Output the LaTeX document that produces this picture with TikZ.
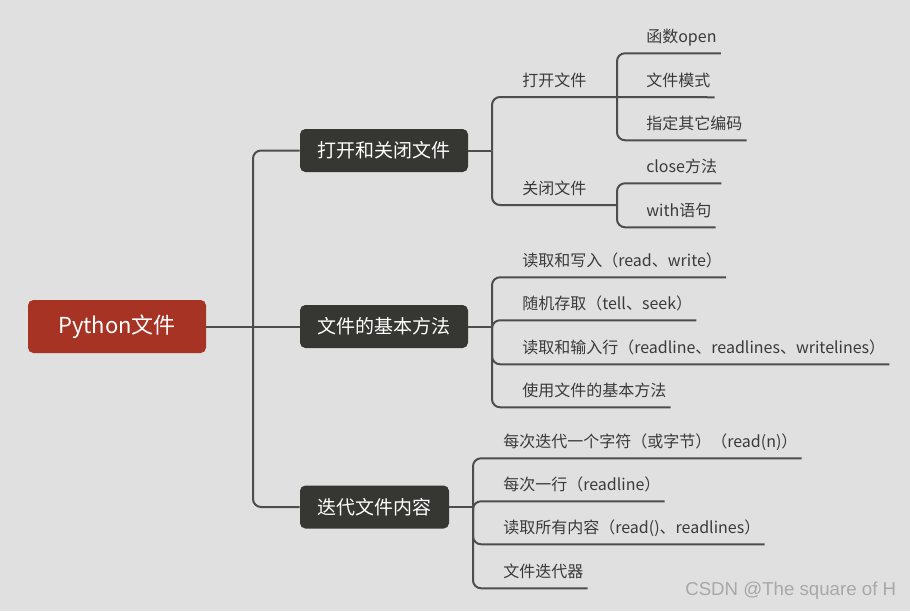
\documentclass[tikz,border=0pt]{standalone}
\usepackage{fontspec}
\setmainfont{Noto Sans CJK SC}
\newfontfamily\wmfont{Liberation Sans}
\usetikzlibrary{calc}
\definecolor{bg}{HTML}{E0E0E0}
\definecolor{rootred}{HTML}{A63324}
\definecolor{boxdark}{HTML}{363632}
\definecolor{linegray}{HTML}{4D4D4D}
\definecolor{txtgray}{HTML}{3A3A3A}
\definecolor{wmgray}{HTML}{A8A8A8}
\begin{document}
\begin{tikzpicture}[x=0.75pt,y=-0.75pt,
  conn/.style={draw=linegray,line width=1.5pt,rounded corners=6pt},
  rootbox/.style={fill=rootred,rounded corners=4pt,text=white,font=\fontsize{16.5}{18}\selectfont,minimum width=133.5pt,minimum height=39.75pt,inner sep=0pt},
  mainbox/.style={fill=boxdark,rounded corners=4pt,text=white,font=\fontsize{14.25}{16}\selectfont,minimum height=32.25pt,inner sep=0pt},
  leaf/.style={anchor=base west,inner sep=0pt,text depth=8.25pt,text=txtgray,font=\fontsize{12}{14}\selectfont}]
\fill[bg] (0,0) rectangle (910,611);
\useasboundingbox (0,0) rectangle (910,611);

% main nodes
\node[rootbox] (root) at (117,326.5) {Python文件};
\node[mainbox,minimum width=126pt] (b1) at (384,150.5) {打开和关闭文件};
\node[mainbox,minimum width=126pt] (b2) at (384,326.5) {文件的基本方法};
\node[mainbox,minimum width=111.75pt] (b3) at (374.5,507) {迭代文件内容};

% leaves of b1
\node[leaf] (l11) at (522,86) {打开文件};
\node[leaf] (l12) at (522,194) {关闭文件};
\node[leaf] (l111) at (646,42) {函数open};
\node[leaf] (l112) at (646,86) {文件模式};
\node[leaf] (l113) at (646,129) {指定其它编码};
\node[leaf] (l121) at (646,172) {close方法};
\node[leaf] (l122) at (646,216) {with语句};

% leaves of b2
\node[leaf] (l21) at (522,266) {读取和写入（read、write）};
\node[leaf] (l22) at (522,309) {随机存取（tell、seek）};
\node[leaf] (l23) at (522,353) {读取和输入行（readline、readlines、writelines）};
\node[leaf] (l24) at (522,396) {使用文件的基本方法};

% leaves of b3
\node[leaf] (l31) at (503,447) {每次迭代一个字符（或字节）（read(n)）};
\node[leaf] (l32) at (503,490) {每次一行（readline）};
\node[leaf] (l33) at (503,533) {读取所有内容（read()、readlines）};
\node[leaf] (l34) at (503,577) {文件迭代器};

% junctions
\coordinate (jr) at (253,326.5);
\coordinate (j1) at (492,150.5);
\coordinate (j2) at (492,326.5);
\coordinate (j3) at (473,507);
\coordinate (g1) at (617,97);
\coordinate (g2) at (617,205);

% connectors
\draw[conn] (root.east) -- (jr);
\draw[conn] (jr) |- (b1.west);
\draw[conn] (jr) -- (b2.west);
\draw[conn] (jr) |- (b3.west);

\draw[conn] (b1.east) -- (j1);
\draw[conn] (j1) |- (g1);
\draw[conn] (j1) |- (g2);
\draw[conn] (g1) |- ([xshift=3pt]l111.south east);
\draw[conn] (g1) -- ([xshift=3pt]l112.south east);
\draw[conn] (g1) |- ([xshift=3pt]l113.south east);
\draw[conn] (g2) |- ([xshift=3pt]l121.south east);
\draw[conn] (g2) |- ([xshift=3pt]l122.south east);

\draw[conn] (b2.east) -- (j2);
\draw[conn] (j2) |- ([xshift=3pt]l21.south east);
\draw[conn] (j2) |- ([xshift=3pt]l22.south east);
\draw[conn] (j2) |- ([xshift=3pt]l23.south east);
\draw[conn] (j2) |- ([xshift=3pt]l24.south east);

\draw[conn] (b3.east) -- (j3);
\draw[conn] (j3) |- ([xshift=3pt]l31.south east);
\draw[conn] (j3) |- ([xshift=3pt]l32.south east);
\draw[conn] (j3) |- ([xshift=3pt]l33.south east);
\draw[conn] (j3) |- ([xshift=3pt]l34.south east);

% watermark
\node[font=\wmfont\fontsize{14}{16}\selectfont,text=wmgray,anchor=west,inner sep=0pt] (wm) at (685,591) {CSDN @The square of H};
\end{tikzpicture}
\end{document}
